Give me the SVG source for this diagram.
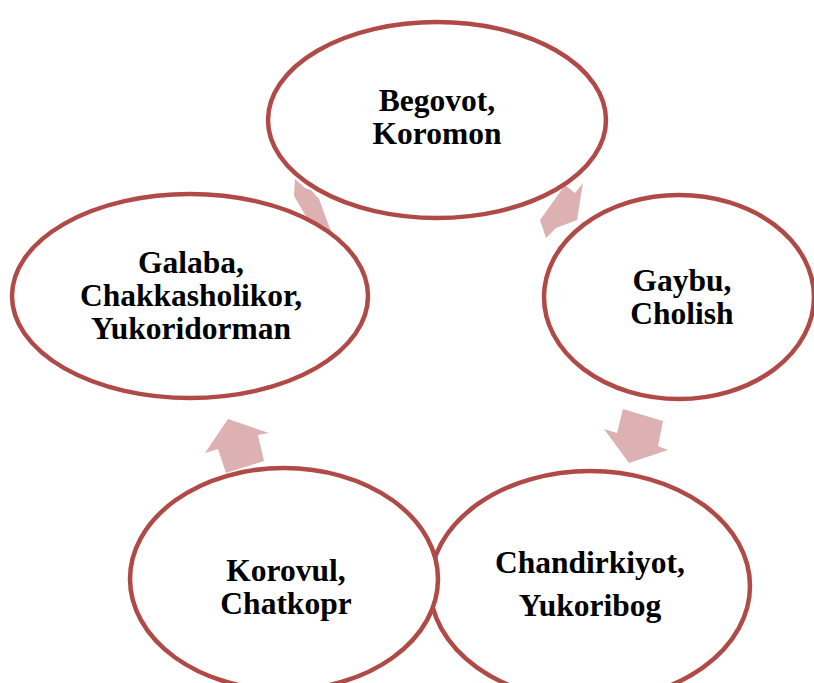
<svg xmlns="http://www.w3.org/2000/svg" width="814" height="683" viewBox="0 0 814 683">
<style>
.n{fill:#fff;stroke:#B04A46;stroke-width:4.5}
.a{fill:#DDB1B1}
text{font-family:"Liberation Serif","Times New Roman",serif;font-weight:bold;font-size:31.5px;fill:#000;text-anchor:middle}
</style>
<rect width="814" height="683" fill="#fff"/>
<g id="connectors">
<polygon class="a" points="295,179 305,188 311,190 319,199 336,245 320,240 294,196"/>
<polygon class="a" points="583,183 575,193 565,185 540,220 546,238 556,228 577,220"/>
<polygon class="a" points="623,409 663,421 658,446 668,450 629,463 604,429 617,433"/>
<polygon class="a" points="228,419 269,433 258,435 264,461 226,473 218,449 205,453"/>
</g>
<g id="n1"><ellipse class="n" cx="437" cy="120" rx="169" ry="98"/>
<text x="437" y="111">Begovot,</text><text x="437" y="144">Koromon</text></g>
<g id="n2"><ellipse class="n" cx="679" cy="297" rx="135" ry="102"/>
<text x="682" y="291">Gaybu,</text><text x="682" y="324">Cholish</text></g>
<g id="n3"><ellipse class="n" cx="590" cy="586" rx="160" ry="115"/>
<text x="590" y="573">Chandirkiyot,</text><text x="590" y="616">Yukoribog</text></g>
<g id="n4"><ellipse class="n" cx="284" cy="579" rx="154" ry="111"/>
<text x="286" y="581">Korovul,</text><text x="286" y="614">Chatkopr</text></g>
<g id="n5"><ellipse class="n" cx="190" cy="296" rx="178" ry="102"/>
<text x="191" y="273">Galaba,</text><text x="191" y="306">Chakkasholikor,</text><text x="191" y="339">Yukoridorman</text></g>
</svg>
